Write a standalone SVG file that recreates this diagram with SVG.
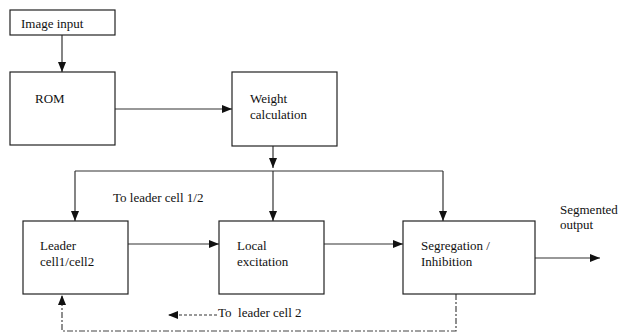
<svg xmlns="http://www.w3.org/2000/svg" width="625" height="335" viewBox="0 0 625 335">
<style>
.box{fill:#fff;stroke:#222;stroke-width:1.2}
text{font-family:'Liberation Serif','DejaVu Serif','Times New Roman',serif;font-size:13px;fill:#111}
.ln{fill:none;stroke:#333;stroke-width:1.2}
.dd{fill:none;stroke:#444;stroke-width:1.2;stroke-dasharray:6 2 2 2}
.ds{fill:none;stroke:#333;stroke-width:1.2;stroke-dasharray:3 2}
</style>
<defs>
<marker id="ah" markerUnits="userSpaceOnUse" markerWidth="10" markerHeight="10" viewBox="0 0 10 10" refX="10" refY="5" orient="auto">
<path d="M0,1 L10,5 L0,9 Z" fill="#111"/>
</marker>
</defs>
<rect width="625" height="335" fill="#fff"/>
<g id="connectors">
<path class="ln" d="M62,35 V72" marker-end="url(#ah)"/>
<path class="ln" d="M115,109 H232" marker-end="url(#ah)"/>
<path class="ln" d="M273,146 V168" marker-end="url(#ah)"/>
<path class="ln" d="M273,171 V221" marker-end="url(#ah)"/>
<path class="ln" d="M75,171 H443"/>
<path class="ln" d="M75,171 V221" marker-end="url(#ah)"/>
<path class="ln" d="M443,171 V221" marker-end="url(#ah)"/>
<path class="ln" d="M128,244 H219" marker-end="url(#ah)"/>
<path class="ln" d="M324,244 H403" marker-end="url(#ah)"/>
<path class="ln" d="M535,258 H600" marker-end="url(#ah)"/>
<path class="dd" d="M456,294 V331 H62 V295" marker-end="url(#ah)"/>
<path class="ds" d="M217,315 H168" marker-end="url(#ah)"/>
<text x="113" y="202">To leader cell 1/2</text>
<text x="218" y="317" xml:space="preserve">To  leader cell 2</text>
<text x="560" y="214">Segmented</text>
<text x="560" y="229">output</text>
</g>
<g id="image-input">
<rect class="box" x="10" y="10" width="105" height="25"/>
<text x="21" y="28">Image input</text>
</g>
<g id="rom">
<rect class="box" x="10" y="72" width="105" height="73"/>
<text x="35" y="103">ROM</text>
</g>
<g id="weight">
<rect class="box" x="232" y="72" width="105" height="74"/>
<text x="250" y="103">Weight</text>
<text x="250" y="119">calculation</text>
</g>
<g id="leader">
<rect class="box" x="23" y="221" width="105" height="73"/>
<text x="40" y="250">Leader</text>
<text x="40" y="266">cell1/cell2</text>
</g>
<g id="local">
<rect class="box" x="219" y="221" width="105" height="73"/>
<text x="237" y="250">Local</text>
<text x="237" y="266">excitation</text>
</g>
<g id="segregation">
<rect class="box" x="403" y="221" width="132" height="73"/>
<text x="421" y="250">Segregation /</text>
<text x="421" y="266">Inhibition</text>
</g>
</svg>
